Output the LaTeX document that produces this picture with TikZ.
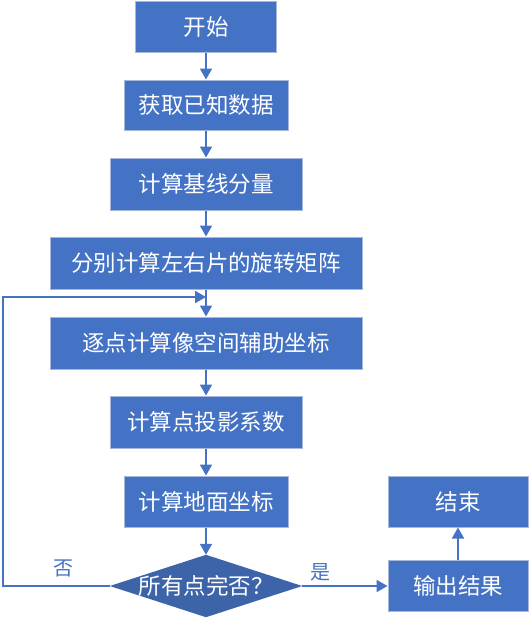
\documentclass[tikz,border=0pt]{standalone}
\usepackage{fontspec}
\setmainfont{Noto Sans CJK SC}
\usetikzlibrary{arrows.meta}
\definecolor{boxblue}{HTML}{4472C4}
\definecolor{boxedge}{HTML}{A8B8DA}
\definecolor{diablue}{HTML}{3D64A9}
\definecolor{lineblue}{HTML}{4472C4}
\begin{document}
\begin{tikzpicture}[x=1pt,y=-1pt,
  procbox/.style={draw=boxedge, line width=1pt, fill=boxblue, text=white, inner sep=0pt, font=\fontsize{22.5}{26}\selectfont},
  conn/.style={draw=lineblue, line width=1.8pt, -{Triangle[width=12pt,length=11pt]}},
  lbl/.style={text=lineblue, font=\fontsize{20}{24}\selectfont}]
\useasboundingbox (0,0) rectangle (530,619);
\node[procbox, minimum width=141, minimum height=51] (s) at (206,26.5) {开始};
\node[procbox, minimum width=164, minimum height=50] (b2) at (206,105) {获取已知数据};
\node[procbox, minimum width=192, minimum height=52] (b3) at (206,184) {计算基线分量};
\node[procbox, minimum width=312, minimum height=52] (b4) at (206,263) {分别计算左右片的旋转矩阵};
\node[procbox, minimum width=312, minimum height=52] (b5) at (206,343) {逐点计算像空间辅助坐标};
\node[procbox, minimum width=192, minimum height=52] (b6) at (206,422) {计算点投影系数};
\node[procbox, minimum width=164, minimum height=51] (b7) at (206,501.5) {计算地面坐标};
\node[inner sep=0pt, minimum width=192, minimum height=62] (d) at (206,586) {};
\fill[diablue] (d.west) -- (d.north) -- (d.east) -- (d.south) -- cycle;
\node[text=white, font=\fontsize{22.5}{26}\selectfont] at (d.center) {所有点完否？};
\node[procbox, minimum width=140, minimum height=51] (out) at (458,585.5) {输出结果};
\node[procbox, minimum width=140, minimum height=51] (end) at (458,501.5) {结束};
\coordinate (loopL) at (3,297);
\coordinate (merge) at (206,297);
\draw[conn] (s) -- (b2);
\draw[conn] (b2) -- (b3);
\draw[conn] (b3) -- (b4);
\draw[conn] (b4) -- (b5);
\draw[conn] (b5) -- (b6);
\draw[conn] (b6) -- (b7);
\draw[conn] (b7) -- (d.north);
\draw[conn] (d.east) -- (out.west |- d.east);
\draw[conn] (out) -- (end);
\draw[conn] (d.west) -- (d.west -| loopL) -- (loopL) -- (merge);
\node[lbl] (no) at (63,568) {否};
\node[lbl] (yes) at (320,572) {是};
\end{tikzpicture}
\end{document}
